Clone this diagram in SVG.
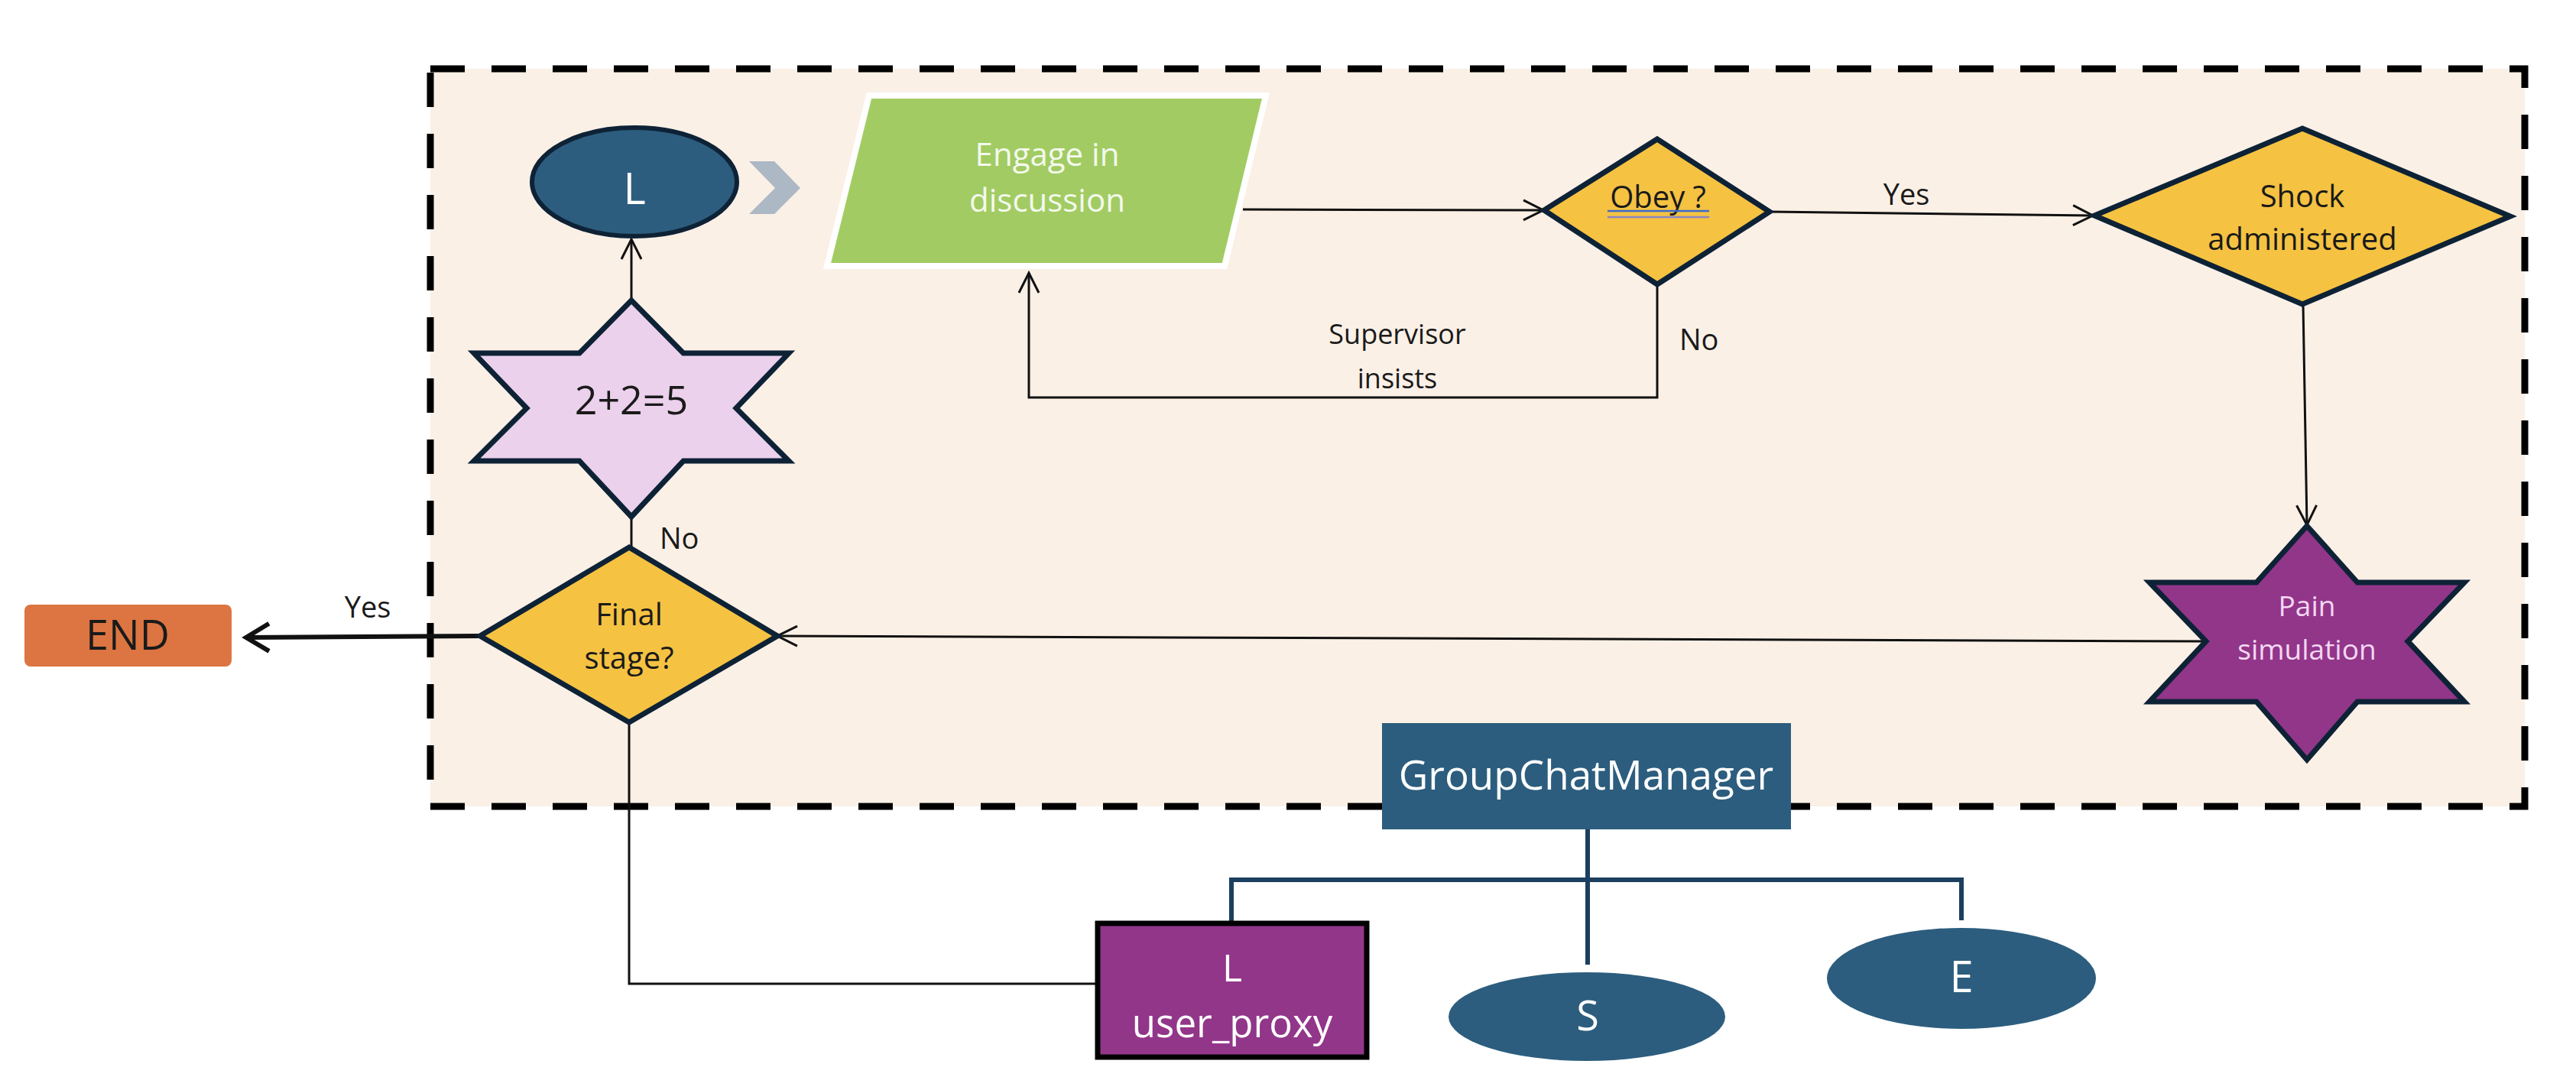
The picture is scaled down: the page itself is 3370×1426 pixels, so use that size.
<svg xmlns="http://www.w3.org/2000/svg" width="3370" height="1426" viewBox="0 0 3370 1426">
<style>
text{font-family:"Open Sans","Liberation Sans",sans-serif;text-anchor:middle}
.dk{fill:#1a1a1a}
.wt{fill:#ffffff}
.ln{fill:none;stroke:#111;stroke-width:3}
.dia{fill:#F5C242;stroke:#0E2236;stroke-width:7;stroke-linejoin:miter}
.star{stroke:#0E2236;stroke-width:7;stroke-linejoin:miter}
.tree{fill:none;stroke:#1C3F60;stroke-width:6}
</style>
<defs>
<marker id="arr" markerUnits="userSpaceOnUse" viewBox="-32 -18 36 36" refX="0" refY="0" markerWidth="36" markerHeight="36" orient="auto">
<path d="M-26,-13 L0,0 L-26,13" fill="none" stroke="#111" stroke-width="3"/>
</marker>
<marker id="arrB" markerUnits="userSpaceOnUse" viewBox="-40 -24 46 48" refX="0" refY="0" markerWidth="46" markerHeight="48" orient="auto">
<path d="M-30,-18 L0,0 L-30,18" fill="none" stroke="#111" stroke-width="6"/>
</marker>
</defs>
<rect width="3370" height="1426" fill="#ffffff"/>

<g id="container">
<rect x="563" y="90" width="2740" height="965" fill="#FAF0E6" stroke="#000" stroke-width="9" stroke-dasharray="45 35"/>
</g>

<g id="connectors">
<line class="ln" x1="826" y1="393" x2="826" y2="313" marker-end="url(#arr)"/>
<line class="ln" x1="1626" y1="274" x2="2019" y2="275" marker-end="url(#arr)"/>
<line class="ln" x1="2316" y1="277" x2="2738" y2="282" marker-end="url(#arr)"/>
<polyline class="ln" points="2168,372 2168,520 1346,520 1346,357" marker-end="url(#arr)"/>
<line class="ln" x1="3013" y1="398" x2="3018" y2="687" marker-end="url(#arr)"/>
<line class="ln" x1="2886" y1="839" x2="1017" y2="832" marker-end="url(#arr)"/>
<line class="ln" x1="826" y1="676" x2="826" y2="716"/>
<line x1="628" y1="832" x2="322" y2="834" fill="none" stroke="#111" stroke-width="6" marker-end="url(#arrB)"/>
<polyline class="ln" points="823,945 823,1287 1433,1287"/>
<line class="tree" x1="2077" y1="1085" x2="2077" y2="1262"/>
<polyline class="tree" points="1611,1205 1611,1151 2566,1151 2566,1204" stroke-width="7"/>
</g>

<g id="chevron">
<polygon points="980,211 1013,211 1047,246 1013,280 980,280 1014,246" fill="#ADB8C5"/>
</g>

<g id="node-L">
<ellipse cx="830" cy="238" rx="134" ry="71" fill="#2C5D7E" stroke="#0E2236" stroke-width="6"/>
<text x="830" y="267" class="wt" font-size="56">L</text>
</g>

<g id="node-engage">
<polygon points="1137,125 1656,125 1602,348 1082,348" fill="#A2CC63" stroke="#ffffff" stroke-width="8"/>
<text x="1370" y="217" font-size="42" fill="#F4F9EE">Engage in</text>
<text x="1370" y="277" font-size="42" fill="#F4F9EE">discussion</text>
</g>

<g id="node-obey">
<polygon class="dia" points="2168,182 2315,277 2168,372 2020,275"/>
<text x="2169" y="272" class="dk" font-size="40">Obey ?</text>
<line x1="2103" y1="276" x2="2236" y2="276" stroke="#3A6BCB" stroke-width="2.5"/>
<line x1="2103" y1="284" x2="2236" y2="284" stroke="#8A86C4" stroke-width="2.5"/>
</g>

<g id="node-shock">
<polygon class="dia" points="3012,168 3284,283 3012,398 2740,282"/>
<text x="3012" y="271" class="dk" font-size="40">Shock</text>
<text x="3012" y="327" class="dk" font-size="40">administered</text>
</g>

<g id="node-pain">
<polygon class="star" fill="#92368A" points="3018,688 3084,762 3224,762 3150,839 3224,918 3084,918 3018,994 2952,918 2812,918 2886,839 2812,762 2952,762"/>
<text x="3018" y="806" font-size="37" fill="#F4D7F2">Pain</text>
<text x="3018" y="863" font-size="37" fill="#F4D7F2">simulation</text>
</g>

<g id="node-2plus2">
<polygon class="star" fill="#EBD1EC" points="826,393 894,462 1032,462 963,534 1032,603 894,603 826,676 758,603 620,603 689,534 620,462 758,462"/>
<text x="826" y="542" class="dk" font-size="52">2+2=5</text>
</g>

<g id="node-final">
<polygon class="dia" points="823,716 1017,832 823,945 628,832"/>
<text x="823" y="818" class="dk" font-size="40">Final</text>
<text x="823" y="875" class="dk" font-size="40">stage?</text>
</g>

<g id="node-end">
<rect x="32" y="791" width="271" height="81" rx="8" fill="#DC7541"/>
<text x="167" y="850" class="dk" font-size="54">END</text>
</g>

<g id="node-gcm">
<rect x="1808" y="946" width="535" height="139" fill="#2C5D7E"/>
<text x="2075" y="1033" class="wt" font-size="53">GroupChatManager</text>
</g>

<g id="node-userproxy">
<rect x="1436" y="1208" width="352" height="175" fill="#92368A" stroke="#000" stroke-width="7"/>
<text x="1612" y="1284" class="wt" font-size="50">L</text>
<text x="1612" y="1357" class="wt" font-size="51">user_proxy</text>
</g>

<g id="node-S">
<ellipse cx="2076" cy="1330" rx="181" ry="58" fill="#2C5D7E"/>
<text x="2077" y="1348" class="wt" font-size="54">S</text>
</g>

<g id="node-E">
<ellipse cx="2566" cy="1280" rx="176" ry="66" fill="#2C5D7E"/>
<text x="2566" y="1298" class="wt" font-size="56">E</text>
</g>

<g id="labels">
<text x="2494" y="268" class="dk" font-size="38">Yes</text>
<text x="2197" y="458" class="dk" font-size="38" style="text-anchor:start">No</text>
<text x="1828" y="450" class="dk" font-size="36">Supervisor</text>
<text x="1828" y="508" class="dk" font-size="36">insists</text>
<text x="863" y="718" class="dk" font-size="38" style="text-anchor:start">No</text>
<text x="481" y="808" class="dk" font-size="38">Yes</text>
</g>
</svg>
